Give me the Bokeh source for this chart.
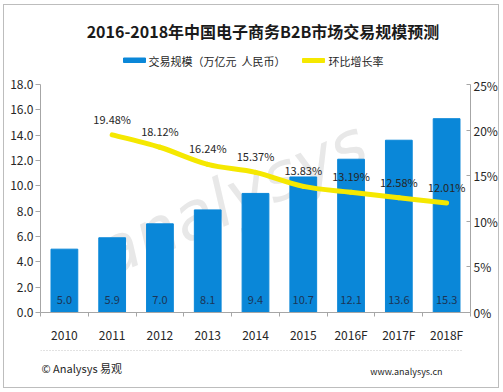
from bokeh.plotting import figure
from bokeh.layouts import column
from bokeh.models import (Range1d, LinearAxis, FixedTicker, PrintfTickFormatter,
                          ColumnDataSource, InlineStyleSheet)
from bokeh.core.properties import value
from bokeh.embed import file_html
from bokeh.resources import INLINE

# ---------------- data ----------------
categories = ["2010", "2011", "2012", "2013", "2014", "2015", "2016F", "2017F", "2018F"]
trade_scale = [5.0, 5.9, 7.0, 8.1, 9.4, 10.7, 12.1, 13.6, 15.3]
growth_categories = ["2011", "2012", "2013", "2014", "2015", "2016F", "2017F", "2018F"]
growth_rate = [19.48, 18.12, 16.24, 15.37, 13.83, 13.19, 12.58, 12.01]
left_ticks = [0, 2, 4, 6, 8, 10, 12, 14, 16, 18]
right_ticks = [0, 5, 10, 15, 20, 25]

title_text = "2016-2018年中国电子商务B2B市场交易规模预测"
legend_bar = "交易规模（万亿元\u00a0\u00a0人民币）"
legend_line = "环比增长率"
footer_left = "© Analysys 易观"
footer_right = "www.analysys.cn"
watermark = "analysys"

# ---------------- styles ----------------
FONT = "Noto Sans CJK SC"
BAR = "#0A87D8"
LINE = "#F5E800"
AXIS = "#A6A6A6"
TXT = "#262626"

W = 503
HEAD_H, MAIN_H, FOOT_H = 76, 269, 47
FL, FR = 40, 470          # frame left / right (page px)
FT, FB = 84, 315          # frame top / bottom (page px)


def blank(h):
    # the column aligns every frame to the main chart's frame (FL..FR),
    # so map page pixels 1:1 onto that frame
    f = figure(width=W, height=h, output_backend="svg", toolbar_location=None,
               x_range=Range1d(FL, FR), y_range=Range1d(h, 0),
               x_axis_location=None, y_axis_location=None,
               min_border=0, min_border_left=FL, min_border_right=W - FR,
               min_border_top=0, min_border_bottom=0)
    f.outline_line_color = None
    f.grid.visible = False
    return f


# ---------------- header: title + legend ----------------
head = blank(HEAD_H)
head.text(x=[262.5], y=[30], text=[title_text], text_align="center",
          text_baseline="middle", text_font=value(FONT), text_font_size="16px",
          text_font_style="bold", text_color="#1a1a1a")
head.quad(left=[123], right=[145], top=[57.5], bottom=[62], color=BAR)
head.text(x=[148], y=[60], text=[legend_bar], text_align="left",
          text_baseline="middle", text_font=value(FONT), text_font_size="11px",
          text_color=TXT)
head.quad(left=[302], right=[324], top=[58], bottom=[62], color=LINE)
head.text(x=[328], y=[60], text=[legend_line], text_align="left",
          text_baseline="middle", text_font=value(FONT), text_font_size="11px",
          text_color=TXT)

# ---------------- main chart ----------------
idx = {c: i for i, c in enumerate(categories)}
bar_src = ColumnDataSource(dict(
    x=[idx[c] for c in categories], top=trade_scale,
    lab=["%.1f" % v for v in trade_scale], base=[0] * len(categories)))
gx = [idx[c] for c in growth_categories]
line_src = ColumnDataSource(dict(
    x=gx, y=growth_rate, lab=["%.2f%%" % v for v in growth_rate]))

# smooth (Catmull-Rom -> cubic Bezier) segments between the growth points
pts = list(zip(gx, growth_rate))
seg = dict(x0=[], y0=[], x1=[], y1=[], cx0=[], cy0=[], cx1=[], cy1=[])
for i in range(len(pts) - 1):
    p0 = pts[max(i - 1, 0)]
    p1 = pts[i]
    p2 = pts[i + 1]
    p3 = pts[min(i + 2, len(pts) - 1)]
    seg["x0"].append(p1[0]); seg["y0"].append(p1[1])
    seg["x1"].append(p2[0]); seg["y1"].append(p2[1])
    seg["cx0"].append(p1[0] + (p2[0] - p0[0]) / 6.0)
    seg["cy0"].append(p1[1] + (p2[1] - p0[1]) / 6.0)
    seg["cx1"].append(p2[0] - (p3[0] - p1[0]) / 6.0)
    seg["cy1"].append(p2[1] - (p3[1] - p1[1]) / 6.0)
seg_src = ColumnDataSource(seg)

p = figure(width=W, height=MAIN_H, output_backend="svg", toolbar_location=None,
           x_range=Range1d(-0.5, len(categories) - 0.5),
           y_range=Range1d(left_ticks[0], left_ticks[-1]),
           min_border_left=FL, min_border_right=W - FR,
           min_border_top=FT - HEAD_H, min_border_bottom=HEAD_H + MAIN_H - FB,
           background_fill_color="white", border_fill_color="white")
p.outline_line_color = None
p.grid.visible = False
p.extra_y_ranges = {"pct": Range1d(right_ticks[0], right_ticks[-1])}

# faint logo watermark behind the bars
p.text(x=[3.5], y=[9.0], text=[watermark], angle=0.42, text_align="center",
       text_baseline="middle", text_font=value("DejaVu Sans"), text_font_size="66px",
       text_font_style="italic", text_color="#E8E8E8")

p.vbar(x="x", top="top", width=0.56, source=bar_src, color=BAR)
p.text(x="x", y="base", text="lab", source=bar_src, text_align="center",
       text_baseline="middle", y_offset=-13, text_font_size="11px",
       text_color="#1B3556", text_font=value(FONT))

p.bezier(x0="x0", y0="y0", x1="x1", y1="y1", cx0="cx0", cy0="cy0",
         cx1="cx1", cy1="cy1", source=seg_src, y_range_name="pct",
         line_color=LINE, line_width=5, line_cap="round")
p.text(x="x", y="y", text="lab", source=line_src, y_range_name="pct",
       text_align="center", text_baseline="middle", y_offset=-16,
       text_font_size="11px", text_color=TXT, text_font=value(FONT))

xa = p.xaxis[0]
xa.ticker = FixedTicker(ticks=list(range(len(categories))),
                        minor_ticks=[i - 0.5 for i in range(len(categories) + 1)])
xa.major_label_overrides = {i: c for i, c in enumerate(categories)}
xa.major_tick_out = 0
xa.major_tick_in = 0
xa.minor_tick_out = 4
xa.minor_tick_in = 0
xa.minor_tick_line_color = AXIS
xa.axis_line_color = AXIS
xa.major_label_standoff = 9
xa.major_label_text_font = FONT
xa.major_label_text_font_size = "12px"
xa.major_label_text_color = TXT

ya = p.yaxis[0]
ya.ticker = FixedTicker(ticks=left_ticks, minor_ticks=[])
ya.formatter = PrintfTickFormatter(format="%.1f")
ya.major_tick_out = 5
ya.major_tick_in = 0
ya.major_tick_line_color = AXIS
ya.axis_line_color = AXIS
ya.major_label_standoff = 2
ya.major_label_text_font = FONT
ya.major_label_text_font_size = "12px"
ya.major_label_text_color = TXT

ra = LinearAxis(y_range_name="pct", ticker=FixedTicker(ticks=right_ticks, minor_ticks=[]),
                formatter=PrintfTickFormatter(format="%d%%"))
ra.major_tick_out = 0
ra.major_tick_in = 4
ra.major_tick_line_color = AXIS
ra.axis_line_color = AXIS
ra.major_label_standoff = 3
ra.major_label_text_font = FONT
ra.major_label_text_font_size = "12px"
ra.major_label_text_color = TXT
p.add_layout(ra, "right")

# ---------------- footer ----------------
foot = blank(FOOT_H)
foot.line(x=[FL, 463], y=[5, 5], line_color="#C4C4C4", line_width=1, line_dash="1 2")
foot.text(x=[FL + 1], y=[22], text=[footer_left], text_align="left",
          text_baseline="middle", text_font=value(FONT), text_font_size="11px",
          text_color=TXT)
foot.text(x=[442], y=[26], text=[footer_right], text_align="right",
          text_baseline="middle", text_font=value(FONT), text_font_size="9px",
          text_color=TXT)

frame_css = InlineStyleSheet(css="""
:host { position: relative; }
:host::after {
  content: ""; position: absolute; left: 3px; top: 4px; width: 496px; height: 384px;
  border: 1.5px solid #BDBDBD; box-sizing: border-box; pointer-events: none; z-index: 100;
}
""")

layout = column(head, p, foot, spacing=0, stylesheets=[frame_css])

open("out.html", "w").write(file_html(layout, INLINE))
